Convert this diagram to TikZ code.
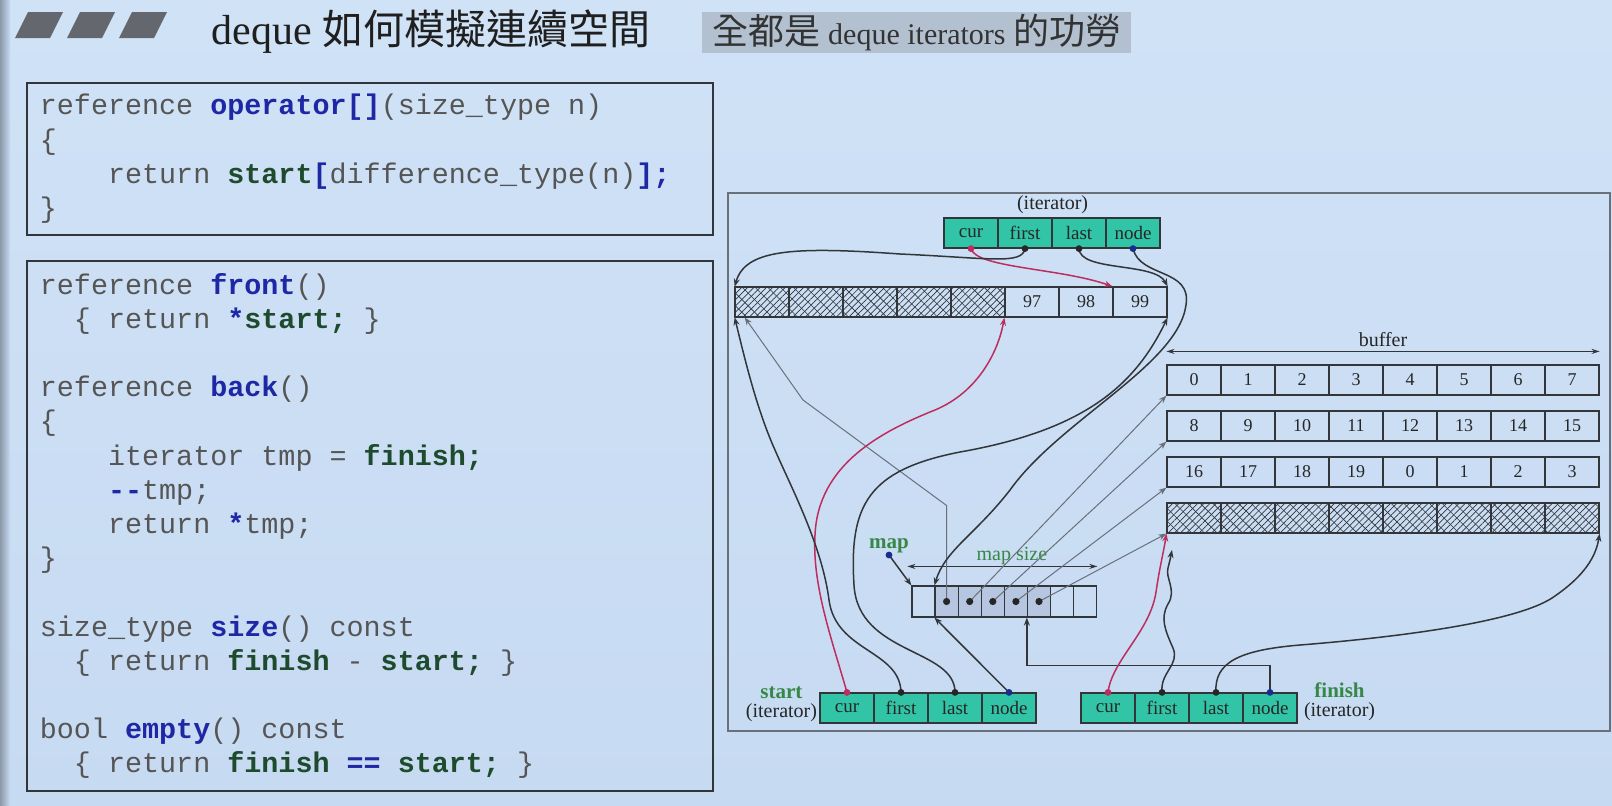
\documentclass[tikz,border=0pt]{standalone}
\usepackage{fontspec}
\setmainfont{Liberation Serif}
\setmonofont{Liberation Mono}
\newfontfamily\cjk{Noto Sans CJK TC}
\usetikzlibrary{arrows.meta,positioning,patterns.meta}

\definecolor{bgtop}{RGB}{208,226,246}
\definecolor{bgbot}{RGB}{198,218,242}
\definecolor{codegray}{RGB}{85,85,85}
\definecolor{kwblue}{RGB}{30,40,165}
\definecolor{kwgreen}{RGB}{30,75,45}
\definecolor{cellteal}{RGB}{50,196,166}
\definecolor{mapfill}{RGB}{182,198,224}
\definecolor{lblgreen}{RGB}{55,135,70}
\definecolor{curred}{RGB}{190,45,95}
\definecolor{nodeblue}{RGB}{25,45,140}
\definecolor{ptrgray}{RGB}{105,112,122}
\definecolor{linegray}{RGB}{50,53,58}
\definecolor{subbox}{RGB}{178,192,208}
\definecolor{bargray}{RGB}{100,103,110}

\newcommand{\kw}[1]{\textcolor{kwblue}{\bfseries #1}}
\newcommand{\sg}[1]{\textcolor{kwgreen}{\bfseries #1}}
\newcommand{\ind}[1]{\hphantom{#1}}
\newcommand{\monosp}{\spaceskip=8.52pt\relax}

\begin{document}
\begin{tikzpicture}[x=0.5pt, y=-0.5pt,
  codebox/.style={draw=linegray, line width=0.9pt, anchor=north west, inner xsep=6.5pt, inner ysep=0pt,
    text width=330pt, align=left, text=codegray, font=\ttfamily\fontsize{14.2}{17.1}\selectfont},
  cell/.style={draw=linegray, line width=0.6pt, minimum width=27pt, minimum height=15pt, inner sep=0pt,
    font=\fontsize{9}{10}\selectfont, text=black!85},
  itcell/.style={cell, fill=cellteal, font=\fontsize{9.5}{11}\selectfont},
  hatch/.style={cell, preaction={pattern={Lines[angle=-45, distance=4.5pt, line width=0.3pt]}, pattern color=linegray},
    pattern={Lines[angle=45, distance=2.2pt, line width=0.35pt]}, pattern color=linegray},
  mapcell/.style={draw=linegray, line width=0.6pt, minimum width=11.55pt, minimum height=15.5pt, inner sep=0pt},
  lab/.style={font=\fontsize{10}{12}\selectfont, text=black!85},
  namelab/.style={font=\bfseries\fontsize{10.5}{12}\selectfont, text=lblgreen, inner sep=1pt},
  arr/.style={-{Stealth[length=4pt,width=3pt]}, line width=0.75pt, draw=linegray},
  redarr/.style={arr, draw=curred},
  ptr/.style={-{Stealth[length=4pt,width=3pt]}, line width=0.5pt, draw=ptrgray},
  dim/.style={{Stealth[length=4pt,width=2.5pt]}-{Stealth[length=4pt,width=2.5pt]}, line width=0.6pt, draw=linegray}]

\useasboundingbox (0,0) rectangle (1612,805);
\shade[top color=bgtop, bottom color=bgbot] (0,0) rectangle (1612,805);
\shade[left color=black!30!bgbot, right color=bgbot] (0,0) rectangle (10,805);

% heading
\foreach \i in {0,1,2}
  \fill[bargray] (28+52*\i,12) -- (63+52*\i,12) -- (50+52*\i,38) -- (15+52*\i,38) -- cycle;
\node[anchor=base west, inner sep=0pt, font=\fontsize{21}{24}\selectfont, text=black!88] (title) at (211,44)
  {deque {\cjk\fontsize{20.5}{24}\selectfont 如何模擬連續空間}};
\node[fill=subbox, anchor=north west, minimum width=214.5pt, minimum height=20.5pt, inner sep=0pt,
  font=\fontsize{15}{18}\selectfont, text=black!80] (subtitle) at (702,12)
  {{\cjk\fontsize{18}{20}\selectfont 全都是} deque iterators {\cjk\fontsize{18}{20}\selectfont 的功勞}};

% code
\node[codebox, minimum height=76pt] (opcode) at (26,82) {\monosp
reference \kw{operator[]}(size\_type n)\\
\{\\
\ind{xxxx}return \sg{start}\kw{[}difference\_type(n)\kw{];}\\
\}};
\node[codebox, minimum height=265pt] (accode) at (26,260) {\monosp
reference \kw{front}()\\
\ind{xx}\{ return \kw{*}\sg{start;} \}\\
\mbox{}\\
reference \kw{back}()\\
\{\\
\ind{xxxx}iterator tmp = \sg{finish;}\\
\ind{xxxx}\kw{-\kern0pt-}tmp;\\
\ind{xxxx}return \kw{*}tmp;\\
\}\\
\mbox{}\\
size\_type \kw{size}() const\\
\ind{xx}\{ return \sg{finish} - \sg{start;} \}\\
\mbox{}\\
bool \kw{empty}() const\\
\ind{xx}\{ return \sg{finish} \kw{==} \sg{start;} \}};

% diagram frame
\draw[draw=ptrgray, line width=0.8pt] (728,193) rectangle (1610,731);

% buffers
\foreach \i in {0,...,4} \node[hatch] (tb\i) at (762+54*\i,302) {};
\foreach \i/\v in {5/97,6/98,7/99} \node[cell] (tb\i) at (762+54*\i,302) {\v};
\foreach \v [count=\i from 0] in {0,...,7} \node[cell] (ra\i) at (1194+54*\i,380) {\v};
\foreach \v [count=\i from 0] in {8,...,15} \node[cell] (rb\i) at (1194+54*\i,426) {\v};
\foreach \v [count=\i from 0] in {16,17,18,19,0,1,2,3} \node[cell] (rc\i) at (1194+54*\i,472) {\v};
\foreach \i in {0,...,7} \node[hatch] (rd\i) at (1194+54*\i,518) {};
\draw[dim] ([yshift=6.5pt]ra0.north west) -- ([yshift=6.5pt]ra7.north east)
  node[midway, above, lab, inner sep=2pt] (buflab) {buffer};

% map
\foreach \i in {0,6,7} \node[mapcell] (m\i) at (923.5+23.1*\i,601.5) {};
\foreach \i in {1,...,5} \node[mapcell, fill=mapfill] (m\i) at (923.5+23.1*\i,601.5) {};
\draw[dim] ([xshift=-2pt,yshift=9.5pt]m0.north west) -- ([yshift=9.5pt]m7.north east)
  node[pos=0.55, above, inner sep=0.5pt, font=\fontsize{10}{12}\selectfont, text=lblgreen] (mslab) {map size};
\coordinate (mapdot) at (889,555);
\node[namelab, above=0pt of mapdot] (mapname) {map};

% iterators
\foreach \f [count=\i from 0] in {cur,first,last,node} {
  \node[itcell] (t\f) at (971+54*\i,233) {\f};
  \node[itcell] (s\f) at (847+54*\i,708) {\f};
  \node[itcell] (f\f) at (1108+54*\i,708) {\f};
}
\node[lab, anchor=south, inner sep=1.5pt] (itlab) at (tfirst.north east) {(iterator)};
\node[lab, anchor=east, inner sep=1pt] (slab) at ([yshift=-2.5pt]scur.west) {(iterator)};
\node[namelab, above=0pt of slab] (sname) {start};
\node[lab, anchor=west, inner sep=1pt] (flab) at ([xshift=2pt,yshift=-2pt]fnode.east) {(iterator)};
\node[namelab, above=0pt of flab] (fname) {finish};
\coordinate (fend) at (1172,550);

% map pointers
\draw[ptr] (m1.center) -- ++(0,-96) -- (803,400) -- ([xshift=5pt]tb0.south west);
\draw[ptr] (m2.center) -- (ra0.south west);
\draw[ptr] (m3.center) -- (rb0.south west);
\draw[ptr] (m4.center) -- (rc0.south west);
\draw[ptr] (m5.center) -- (rd0.south west);
\draw[arr] (mapdot) -- (m0.north west);

% middle iterator
\draw[redarr] (tcur.south) .. controls (976,268) and (1060,268) .. (tb7.north west);
\draw[arr] (tfirst.south) .. controls (1022,265) and (990,258) .. (900,254) .. controls (790,246) and (745,250) .. (tb0.north west);
\draw[arr] (tlast.south) .. controls (1080,272) and (1155,262) .. (tb7.north east);
\draw[arr] (tnode.south) .. controls (1140,278) and (1192,268) .. (1186,305) .. controls (1178,365) and (1060,420) .. (1010,490) .. controls (975,535) and (945,550) .. (m1.north west);

% start
\draw[redarr] (scur.north) .. controls (832,640) and (812,585) .. (815,535) .. controls (818,465) and (880,432) .. (935,410) .. controls (978,392) and (998,352) .. (tb5.south west);
\draw[arr] (sfirst.north) .. controls (900,650) and (836,652) .. (829,600) .. controls (822,545) and (790,485) .. (775,450) .. controls (757,410) and (745,360) .. (tb0.south west);
\draw[arr] (slast.north) .. controls (955,648) and (858,655) .. (854,585) .. controls (849,505) and (868,470) .. (960,452) .. controls (1085,430) and (1135,385) .. (tb7.south east);
\draw[arr] (snode.north) -- (m1.south west);

% finish
\draw[arr] (fnode.north) -- ++(0,-27) -| (m5.south west);
\draw[redarr] (fcur.north) .. controls (1112,660) and (1150,632) .. (1156,592) .. controls (1160,565) and (1164,550) .. (rd0.south west);
\draw[arr] (ffirst.north) .. controls (1160,672) and (1180,665) .. (1173,648) .. controls (1165,630) and (1160,618) .. (1168,604) .. controls (1177,590) and (1165,578) .. (1168,568) .. controls (1170,560) .. (fend);
\draw[arr] (flast.north) .. controls (1214,662) and (1240,650) .. (1300,645) .. controls (1400,637) and (1515,622) .. (1552,598) .. controls (1585,576) and (1596,556) .. (rd7.south east);

% dots
\foreach \n in {tcur.south,scur.north,fcur.north} \fill[curred] (\n) circle (1.7pt);
\foreach \n in {tfirst.south,tlast.south,sfirst.north,slast.north,ffirst.north,flast.north} \fill[black!85] (\n) circle (1.7pt);
\foreach \n in {tnode.south,snode.north,fnode.north,mapdot} \fill[nodeblue] (\n) circle (1.7pt);
\foreach \i in {1,...,5} \fill[black!85] (m\i.center) circle (1.8pt);
\end{tikzpicture}
\end{document}
